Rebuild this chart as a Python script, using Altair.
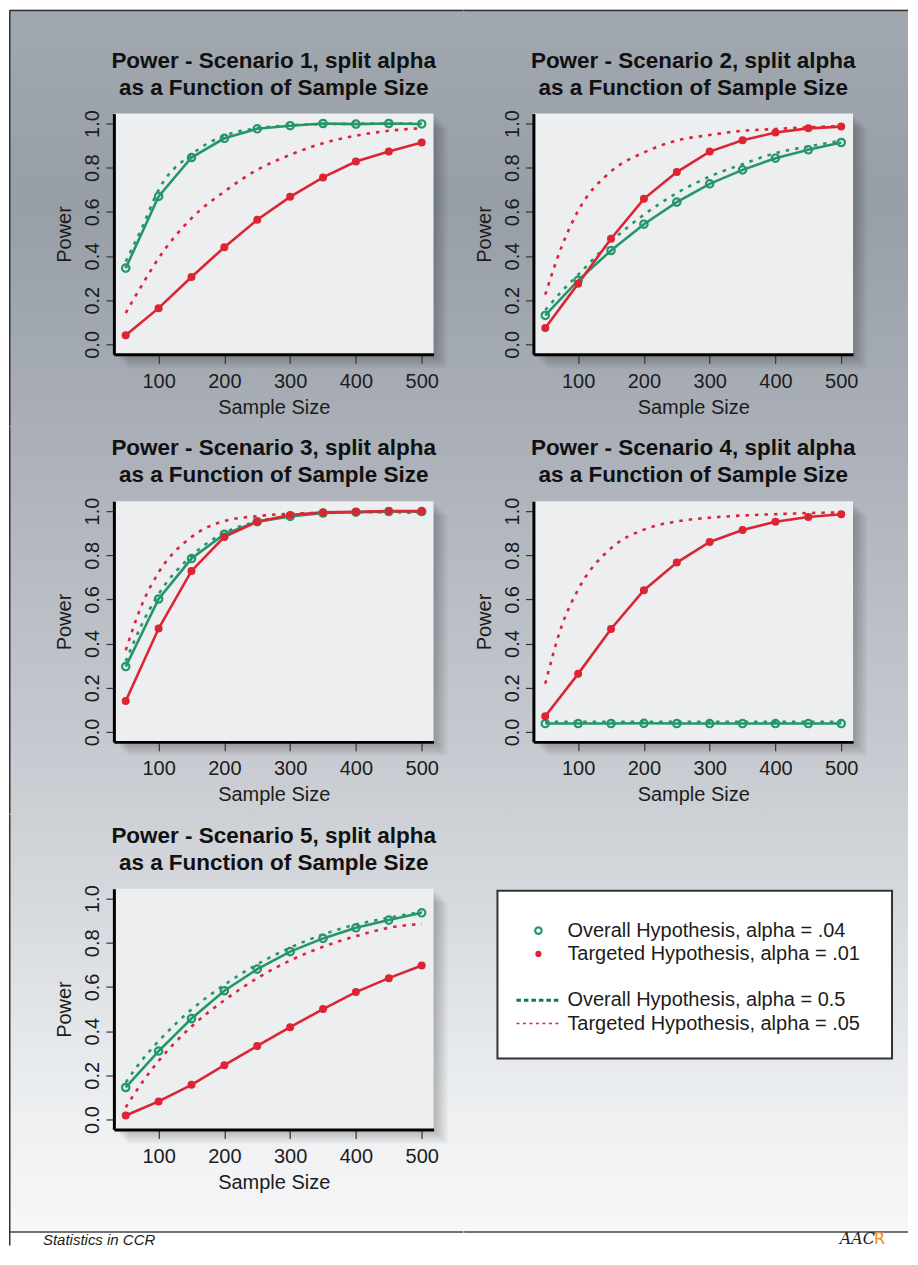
import altair as alt
import pandas as pd

# ---------------- data ----------------
SAMPLE_SIZE = [50, 100, 150, 200, 250, 300, 350, 400, 450, 500]
CURVE_N = [50, 75, 100, 150, 200, 250, 300, 350, 400, 450, 500]

PANEL_TITLES = [
    "Power - Scenario 1, split alpha\nas a Function of Sample Size",
    "Power - Scenario 2, split alpha\nas a Function of Sample Size",
    "Power - Scenario 3, split alpha\nas a Function of Sample Size",
    "Power - Scenario 4, split alpha\nas a Function of Sample Size",
    "Power - Scenario 5, split alpha\nas a Function of Sample Size",
]

OVERALL_OBS_1 = [0.345, 0.67, 0.846, 0.933, 0.976, 0.99, 1.0, 0.997, 1.0, 0.998]
OVERALL_OBS_2 = [0.131, 0.29, 0.425, 0.544, 0.644, 0.727, 0.79, 0.843, 0.881, 0.914]
OVERALL_OBS_3 = [0.296, 0.602, 0.785, 0.895, 0.952, 0.976, 0.991, 0.995, 0.998, 0.998]
OVERALL_OBS_4 = [0.038, 0.038, 0.038, 0.039, 0.038, 0.038, 0.038, 0.038, 0.038, 0.038]
OVERALL_OBS_5 = [0.145, 0.31, 0.457, 0.583, 0.681, 0.76, 0.82, 0.868, 0.903, 0.936]

TARGETED_OBS_1 = [0.041, 0.164, 0.305, 0.44, 0.564, 0.668, 0.756, 0.828, 0.873, 0.914]
TARGETED_OBS_2 = [0.074, 0.275, 0.478, 0.659, 0.78, 0.873, 0.924, 0.959, 0.978, 0.986]
TARGETED_OBS_3 = [0.14, 0.468, 0.729, 0.883, 0.952, 0.982, 0.994, 0.997, 1.0, 1.0]
TARGETED_OBS_4 = [0.071, 0.263, 0.466, 0.642, 0.767, 0.86, 0.914, 0.952, 0.973, 0.986]
TARGETED_OBS_5 = [0.018, 0.082, 0.157, 0.246, 0.333, 0.418, 0.5, 0.577, 0.64, 0.697]

OVERALL_CURVE_1 = [0.375, 0.53, 0.70, 0.86, 0.945, 0.978, 0.992, 0.997, 0.999, 1.0, 1.0]
OVERALL_CURVE_2 = [0.155, 0.24, 0.315, 0.466, 0.587, 0.685, 0.76, 0.816, 0.866, 0.896, 0.922]
OVERALL_CURVE_3 = [0.32, 0.49, 0.624, 0.797, 0.902, 0.952, 0.977, 0.99, 0.995, 0.995, 0.99]
OVERALL_CURVE_4 = [0.046, 0.046, 0.046, 0.046, 0.046, 0.046, 0.046, 0.046, 0.046, 0.046, 0.046]
OVERALL_CURVE_5 = [0.168, 0.27, 0.355, 0.498, 0.61, 0.703, 0.778, 0.838, 0.883, 0.913, 0.94]

TARGETED_CURVE_1 = [0.142, 0.27, 0.39, 0.571, 0.692, 0.79, 0.858, 0.911, 0.945, 0.967, 0.979]
TARGETED_CURVE_2 = [0.225, 0.443, 0.605, 0.783, 0.869, 0.923, 0.948, 0.967, 0.975, 0.983, 0.988]
TARGETED_CURVE_3 = [0.37, 0.579, 0.722, 0.883, 0.955, 0.977, 0.988, 0.992, 0.995, 0.997, 0.998]
TARGETED_CURVE_4 = [0.218, 0.48, 0.645, 0.832, 0.916, 0.953, 0.97, 0.98, 0.986, 0.991, 0.994]
TARGETED_CURVE_5 = [0.055, 0.168, 0.265, 0.421, 0.54, 0.64, 0.72, 0.782, 0.83, 0.868, 0.886]

OVERALL_OBS = [OVERALL_OBS_1, OVERALL_OBS_2, OVERALL_OBS_3, OVERALL_OBS_4, OVERALL_OBS_5]
TARGETED_OBS = [TARGETED_OBS_1, TARGETED_OBS_2, TARGETED_OBS_3, TARGETED_OBS_4, TARGETED_OBS_5]
OVERALL_CURVE = [OVERALL_CURVE_1, OVERALL_CURVE_2, OVERALL_CURVE_3, OVERALL_CURVE_4, OVERALL_CURVE_5]
TARGETED_CURVE = [TARGETED_CURVE_1, TARGETED_CURVE_2, TARGETED_CURVE_3, TARGETED_CURVE_4, TARGETED_CURVE_5]

X_TICKS = [100, 200, 300, 400, 500]
Y_TICKS = [0.0, 0.2, 0.4, 0.6, 0.8, 1.0]

LEGEND_LABELS = [
    "Overall Hypothesis, alpha = .04",
    "Targeted Hypothesis, alpha = .01",
    "Overall Hypothesis, alpha = 0.5",
    "Targeted Hypothesis, alpha = .05",
]
LEGEND_SLOTS = [0, 1, 3, 4]

FOOTER_TEXT = "Statistics in CCR"

# ---------------- style ----------------
GREEN = "#25966a"
GREEN_DARK = "#0f7a48"
RED = "#dc2433"
BOX = "#eceef0"
INK = "#1c1c1c"
FONT = "Liberation Sans"

W, H = 320, 241

# background gradient (chart y -> colour)
G = [(0, "#a2a8b0"), (190, "#979ea6"), (430, "#abb0b8"), (660, "#bfc3ca"),
     (890, "#d5d8dc"), (1000, "#e2e5e8"), (1115, "#eef0f2"), (1223, "#f6f7f9")]


def _rgb(h):
    return [int(h[i:i + 2], 16) for i in (1, 3, 5)]


def _hex(c):
    return "#%02x%02x%02x" % tuple(int(round(v)) for v in c)


def color_at(y):
    if y <= G[0][0]:
        return G[0][1]
    for (ya, ca), (yb, cb) in zip(G, G[1:]):
        if ya <= y <= yb:
            t = (y - ya) / (yb - ya)
            a, b = _rgb(ca), _rgb(cb)
            return _hex([a[i] + (b[i] - a[i]) * t for i in range(3)])
    return G[-1][1]


def grad(y0, y1):
    stops = [alt.GradientStop(offset=0, color=color_at(y0))]
    for gy, gc in G:
        if y0 < gy < y1:
            stops.append(alt.GradientStop(offset=(gy - y0) / (y1 - y0), color=gc))
    stops.append(alt.GradientStop(offset=1, color=color_at(y1)))
    return alt.Gradient(gradient="linear", stops=stops, x1=0, x2=0, y1=0, y2=1)


def one():
    return alt.Data(values=[{"k": 0}])


def vrect(x0, x1, y0, y1, **mk):
    return alt.Chart(one()).mark_rect(**mk).encode(
        x=alt.value(x0), x2=alt.value(x1), y=alt.value(y0), y2=alt.value(y1))


def vrule(x0, x1, y0, y1, **mk):
    return alt.Chart(one()).mark_rule(**mk).encode(
        x=alt.value(x0), x2=alt.value(x1), y=alt.value(y0), y2=alt.value(y1))


def vtext(x, y, txt, **mk):
    return alt.Chart(one()).mark_text(**mk).encode(
        x=alt.value(x), y=alt.value(y), text=alt.value(txt))


# cell extents relative to each plot origin (plot origins: page x 113 / 533,
# page y 112 / 500 / 888)
COLS = [(-105, 350), (-70, 375)]
ROWS = [(-104, 313, 0), (-75, 313, 417), (-75, 343, 805)]  # y0, y1, chart y of cell top
FOOT_H = 15
OVL = 2  # overlap into following cells (hides anti-aliasing seams)


def cell_frame(r, c):
    x0, x1 = COLS[c]
    y0, y1, cy = ROWS[r]
    ex = OVL if c == 0 else 0
    ey = OVL if r < 2 else 0
    layers = [vrect(x0, x1 + ex, y0, y1 + ey, fill=grad(cy, cy + (y1 - y0)), strokeWidth=0)]
    if r == 0:
        layers.append(vrule(x0 + 0.75, x1 + ex, y0 + 0.75, y0 + 0.75, color="#333333", strokeWidth=1.5))
    if r == 2:
        layers.append(vrect(x0, x1 + ex, y1, y1 + FOOT_H, fill="white", strokeWidth=0))
        layers.append(vrule(x0 + 0.75, x1 + ex, y1 + 0.75, y1 + 0.75, color="#444444", strokeWidth=1.5))
    if c == 0:
        bottom = y1 + (FOOT_H - 0.75 if r == 2 else ey)
        layers.append(vrule(x0 + 0.75, x0 + 0.75, y0 + 0.75, bottom, color="#333333", strokeWidth=1.5))
    return layers


X_AXIS = alt.Axis(values=X_TICKS, title="Sample Size", grid=False, zindex=1,
                  domainColor="black", domainWidth=3, tickColor="#333333", tickSize=9,
                  tickWidth=1.2, labelFont=FONT, labelFontSize=20, labelColor=INK,
                  labelPadding=8, titleFont=FONT, titleFontSize=20, titleFontWeight="normal",
                  titleColor=INK, titlePadding=6, labelFlush=False)
Y_AXIS = alt.Axis(values=Y_TICKS, format=".1f", title="Power", grid=False, zindex=1,
                  domainColor="black", domainWidth=3, tickColor="#333333", tickSize=8,
                  tickWidth=1.2, labelFont=FONT, labelFontSize=20, labelColor=INK,
                  labelAngle=270, labelAlign="center", labelBaseline="alphabetic",
                  labelPadding=7, titleFont=FONT, titleFontSize=20, titleFontWeight="normal",
                  titleColor=INK, titlePadding=8, labelFlush=False)
X_SCALE = alt.Scale(domain=[32, 518], nice=False, zero=False)
Y_SCALE = alt.Scale(domain=[-0.045, 1.045], nice=False, zero=False)


def panel(i):
    r, c = divmod(i, 2)
    layers = cell_frame(r, c)
    # soft shadow
    for k in (2, 4, 6, 8, 10, 12, 14):
        layers.append(vrect(k, W + k, k, H + k, fill="black", opacity=0.035))
    layers.append(vrect(0, W, 0, H, fill=BOX))
    layers.append(vtext(W / 2, -46, PANEL_TITLES[i], lineBreak="\n", lineHeight=27, font=FONT,
                        fontSize=22.5, fontWeight="bold", color="#111111", align="center",
                        baseline="alphabetic"))
    if r == 2:
        layers.append(vtext(-71, ROWS[2][1] + 8.5, FOOTER_TEXT, align="left", baseline="middle",
                            font=FONT, fontSize=15, fontStyle="italic", color=INK))

    obs = pd.DataFrame({"n": SAMPLE_SIZE, "overall": OVERALL_OBS[i], "targeted": TARGETED_OBS[i]})
    cur = pd.DataFrame({"n": CURVE_N, "overall": OVERALL_CURVE[i], "targeted": TARGETED_CURVE[i]})

    def enc(field):
        return dict(x=alt.X("n:Q", scale=X_SCALE, axis=X_AXIS),
                    y=alt.Y(field + ":Q", scale=Y_SCALE, axis=Y_AXIS))

    layers.append(alt.Chart(cur).mark_line(color=GREEN, strokeWidth=2.6, strokeDash=[3.5, 6],
                                           interpolate="monotone").encode(**enc("overall")))
    layers.append(alt.Chart(cur).mark_line(color=RED, strokeWidth=2.6, strokeDash=[3.5, 6],
                                           interpolate="monotone").encode(**enc("targeted")))
    layers.append(alt.Chart(obs).mark_line(color=GREEN, strokeWidth=2.6).encode(**enc("overall")))
    layers.append(alt.Chart(obs).mark_line(color=RED, strokeWidth=2.6).encode(**enc("targeted")))
    layers.append(alt.Chart(obs).mark_point(shape="circle", filled=False, color=GREEN, size=55,
                                            strokeWidth=2.2, opacity=1).encode(**enc("overall")))
    layers.append(alt.Chart(obs).mark_circle(color=RED, size=64, opacity=1).encode(**enc("targeted")))
    return alt.layer(*layers).properties(width=W, height=H)


def legend_cell():
    layers = cell_frame(2, 1)
    bx0, bx1, by0, by1 = -36, 359, 2, 170
    layers.append(vrect(bx0, bx1, by0, by1, fill="white", stroke="#333333", strokeWidth=2))
    leg = pd.DataFrame({"slot": LEGEND_SLOTS, "label": LEGEND_LABELS})
    ly = alt.Y("slot:Q", scale=alt.Scale(domain=[0, 4], range=[by0 + 40, by0 + 133]), axis=None)
    base = alt.Chart(leg)
    layers.append(base.transform_filter("datum.slot == 0").mark_point(
        shape="circle", filled=False, color=GREEN, size=42, strokeWidth=2.2, opacity=1).encode(
        x=alt.value(bx0 + 41), y=ly))
    layers.append(base.transform_filter("datum.slot == 1").mark_circle(
        color=RED, size=38, opacity=1).encode(x=alt.value(bx0 + 41), y=ly))
    layers.append(base.transform_filter("datum.slot == 3").mark_rule(
        color=GREEN_DARK, strokeWidth=3, strokeDash=[4.5, 3]).encode(
        x=alt.value(bx0 + 19), x2=alt.value(bx0 + 63), y=ly))
    layers.append(base.transform_filter("datum.slot == 4").mark_rule(
        color=RED, strokeWidth=1.4, strokeDash=[3, 3.5]).encode(
        x=alt.value(bx0 + 19), x2=alt.value(bx0 + 63), y=ly))
    layers.append(base.mark_text(align="left", baseline="middle", font=FONT, fontSize=20,
                                 color=INK).encode(x=alt.value(bx0 + 70), y=ly, text="label:N"))
    fy = ROWS[2][1] + 8
    layers.append(vtext(342, fy, "AAC", align="right", baseline="middle", font="DejaVu Serif",
                        fontSize=16, fontStyle="italic", color="#222222"))
    layers.append(vtext(341, fy, "R", align="left", baseline="middle", font="DejaVu Sans",
                        fontSize=16, color="#f0881c"))
    return alt.layer(*layers).properties(width=W, height=H)


chart = alt.concat(
    panel(0), panel(1), panel(2), panel(3), panel(4), legend_cell(),
    columns=2, spacing=alt.RowColnumber(row=147, column=100), bounds="flush",
).properties(padding=0, background="white").configure_view(stroke="transparent")

chart.save("out.html", embed_options={"renderer": "svg", "actions": False})
